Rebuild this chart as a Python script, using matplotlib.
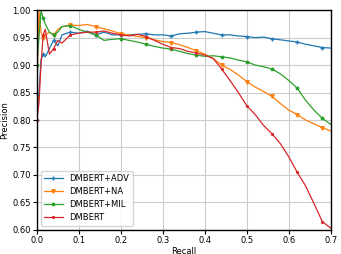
import numpy as np
import matplotlib
matplotlib.use("Agg")
import matplotlib.pyplot as plt

# recall values shared by all curves
recall = [0.0, 0.005, 0.01, 0.015, 0.02, 0.03, 0.04, 0.05, 0.06, 0.08,
          0.10, 0.12, 0.14, 0.16, 0.18, 0.20, 0.22, 0.24, 0.26, 0.28,
          0.30, 0.32, 0.34, 0.36, 0.38, 0.40, 0.42, 0.44, 0.46, 0.48,
          0.50, 0.52, 0.54, 0.56, 0.58, 0.60, 0.62, 0.64, 0.66, 0.68, 0.70]

prec_adv = [0.80, 0.85, 0.91, 0.92, 0.915, 0.93, 0.945, 0.935, 0.955, 0.96,
            0.958, 0.962, 0.955, 0.96, 0.955, 0.955, 0.955, 0.956, 0.957, 0.955,
            0.955, 0.953, 0.957, 0.958, 0.96, 0.961, 0.958, 0.955, 0.955, 0.953,
            0.952, 0.95, 0.951, 0.948, 0.946, 0.944, 0.942, 0.938, 0.935, 0.932, 0.931]

prec_na = [0.84, 1.00, 0.96, 0.95, 0.955, 0.96, 0.955, 0.965, 0.97, 0.973,
           0.972, 0.974, 0.97, 0.966, 0.962, 0.957, 0.955, 0.952, 0.95, 0.946,
           0.943, 0.941, 0.937, 0.932, 0.926, 0.92, 0.912, 0.90, 0.892, 0.882,
           0.87, 0.86, 0.852, 0.843, 0.83, 0.818, 0.81, 0.80, 0.793, 0.786, 0.78]

prec_mil = [0.90, 0.95, 1.00, 0.985, 0.975, 0.96, 0.955, 0.96, 0.97, 0.972,
            0.965, 0.96, 0.955, 0.945, 0.947, 0.948, 0.945, 0.942, 0.938, 0.934,
            0.931, 0.929, 0.925, 0.921, 0.918, 0.916, 0.917, 0.915, 0.913, 0.909,
            0.906, 0.9, 0.897, 0.893, 0.884, 0.872, 0.858, 0.836, 0.818, 0.803, 0.792]

prec_dm = [0.80, 0.83, 0.90, 0.955, 0.965, 0.92, 0.93, 0.945, 0.94, 0.955,
           0.958, 0.96, 0.96, 0.962, 0.958, 0.955, 0.953, 0.956, 0.952, 0.945,
           0.938, 0.932, 0.93, 0.925, 0.922, 0.918, 0.912, 0.893, 0.872, 0.85,
           0.826, 0.81, 0.79, 0.775, 0.757, 0.733, 0.705, 0.68, 0.648, 0.615, 0.603]

labels = ["DMBERT+ADV", "DMBERT+NA", "DMBERT+MIL", "DMBERT"]
colors = ["#1f77b4", "#ff7f0e", "#2ca02c", "#d62728"]
markers = ["+", "v", "*", "."]

plt.rcParams["font.size"] = 6
fig, ax = plt.subplots(figsize=(3.41, 2.54), dpi=100)

for p, lab, c, m in zip([prec_adv, prec_na, prec_mil, prec_dm], labels, colors, markers):
    ax.plot(recall, p, color=c, marker=m, markersize=2.5, markevery=3,
            linewidth=0.9, label=lab)

ax.set_xlim(0.0, 0.7)
ax.set_ylim(0.6, 1.0)
ax.set_xticks(np.arange(0, 0.71, 0.1))
ax.set_yticks(np.arange(0.6, 1.001, 0.05))
ax.set_xlabel("Recall", fontsize=6, labelpad=1)
ax.set_ylabel("Precision", fontsize=6, labelpad=2)
ax.tick_params(labelsize=6, length=3, pad=1.5)
ax.grid(True, color="#cccccc", linewidth=0.8)
for s in ax.spines.values():
    s.set_linewidth(1.0)
ax.legend(loc="lower left", fontsize=6, handlelength=2.2)

plt.subplots_adjust(left=0.108, right=0.97, top=0.96, bottom=0.095)
plt.savefig("out.png", dpi=100)
